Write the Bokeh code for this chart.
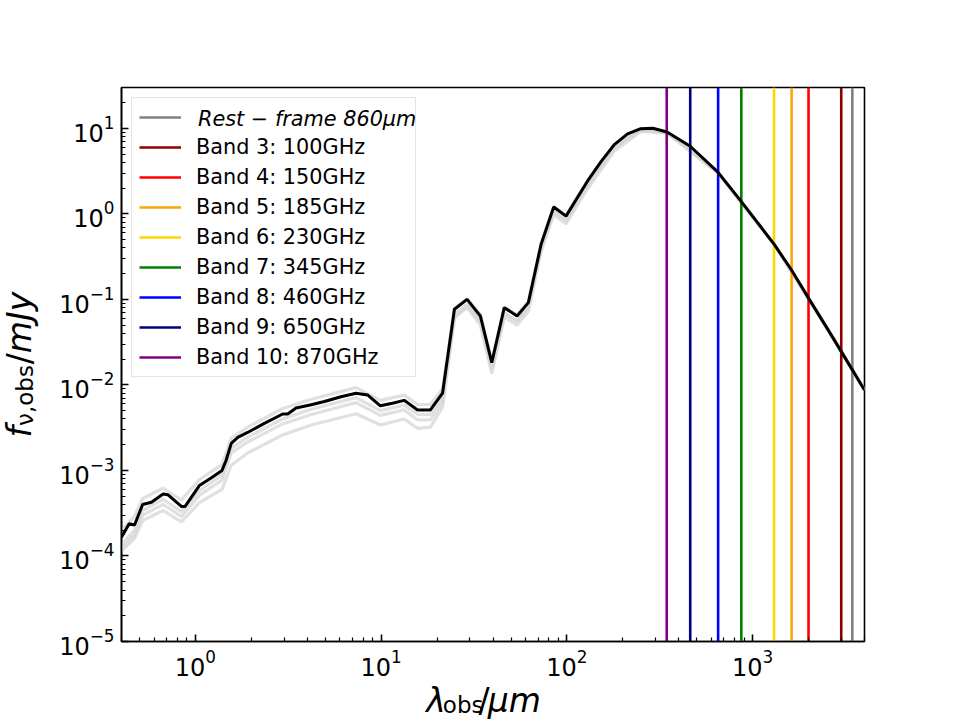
import math

from bokeh.plotting import figure
from bokeh.layouts import row, column
from bokeh.models import FixedTicker, LogTickFormatter, Legend, LegendItem, Label, Range1d
from bokeh.embed import file_html
from bokeh.resources import INLINE

# ---- best-fit SED: observed wavelength (micron) and flux density (mJy) ----
wave_um = [0.40, 0.44, 0.47, 0.52, 0.58, 0.67, 0.71, 0.84, 0.88, 1.05, 1.22, 1.39,
           1.46, 1.56, 1.69, 1.91, 2.35, 2.95, 3.14, 3.48, 4.2, 4.95, 6.08, 7.32,
           8.47, 9.9, 11.5, 13.3, 15.7, 18.4, 21.4, 24.8, 29.0, 34.2, 39.4, 46.0,
           53.9, 62.0, 72.6, 84.9, 98.9, 129, 153, 180, 212, 250, 290, 346, 461,
           648, 865, 1306, 1622, 2018, 2582, 2985, 4000]
flux_mjy = [1.66e-4, 2.38e-4, 2.3e-4, 4.0e-4, 4.25e-4, 5.3e-4, 5.2e-4, 3.8e-4, 3.8e-4,
            6.65e-4, 8.2e-4, 1.0e-3, 1.3e-3, 2.07e-3, 2.43e-3, 2.78e-3, 3.55e-3, 4.57e-3,
            4.57e-3, 5.36e-3, 5.86e-3, 6.4e-3, 7.26e-3, 8.0e-3, 7.6e-3, 5.7e-3, 6.1e-3,
            6.6e-3, 5.1e-3, 5.1e-3, 8.0e-3, 0.0766, 0.10, 0.064, 0.0182, 0.080, 0.064,
            0.0916, 0.44, 1.2, 0.94, 2.41, 4.1, 6.45, 8.6, 9.9, 10.0, 9.05, 6.17, 3.09,
            1.41, 0.44, 0.219, 0.10, 0.042, 0.025, 0.0087]

# ---- alternative templates drawn underneath ----
tmpl_wave_um = [0.40, 0.47, 0.52, 0.67, 0.84, 1.05, 1.39, 1.56, 1.91, 2.95, 4.2, 7.32,
                9.9, 13.3, 15.7, 18.4, 21.4, 24.8, 29.0, 34.2, 39.4, 46.0, 53.9, 62.0,
                72.6, 84.9, 98.9, 129, 180, 250, 346, 648, 1306, 2582, 4000]
tmpl_a = [2.0e-4, 2.9e-4, 4.7e-4, 6.2e-4, 4.5e-4, 7.8e-4, 1.17e-3, 2.4e-3, 3.2e-3, 5.3e-3,
          6.8e-3, 9.3e-3, 6.6e-3, 7.6e-3, 5.9e-3, 5.9e-3, 9.0e-3, 0.078, 0.102, 0.066,
          0.019, 0.082, 0.066, 0.094, 0.45, 1.22, 0.97, 2.45, 6.5, 9.9, 9.05, 3.09, 0.44,
          0.042, 0.0087]
tmpl_b = [1.35e-4, 2.0e-4, 3.4e-4, 4.6e-4, 3.3e-4, 5.8e-4, 8.8e-4, 1.8e-3, 2.45e-3, 4.0e-3,
          5.2e-3, 7.1e-3, 5.0e-3, 5.8e-3, 4.5e-3, 4.5e-3, 7.0e-3, 0.068, 0.088, 0.056,
          0.015, 0.068, 0.055, 0.080, 0.39, 1.05, 0.82, 2.1, 5.8, 9.5, 8.9, 3.05, 0.44,
          0.042, 0.0087]
tmpl_c = [1.25e-4, 1.75e-4, 3.0e-4, 4.0e-4, 2.9e-4, 5.1e-4, 7.7e-4, 1.6e-3, 2.15e-3, 3.5e-3,
          4.5e-3, 6.2e-3, 4.4e-3, 5.1e-3, 3.9e-3, 3.9e-3, 6.2e-3, 0.062, 0.080, 0.050,
          0.0135, 0.062, 0.050, 0.072, 0.36, 0.98, 0.76, 1.95, 5.4, 9.2, 8.8, 3.0, 0.44,
          0.042, 0.0087]
tmpl_d = [1.15e-4, 1.6e-4, 2.6e-4, 3.4e-4, 2.5e-4, 4.2e-4, 6.0e-4, 1.15e-3, 1.6e-3, 2.6e-3,
          3.4e-3, 4.6e-3, 3.4e-3, 4.0e-3, 3.1e-3, 3.2e-3, 5.5e-3, 0.060, 0.085, 0.055,
          0.016, 0.070, 0.056, 0.082, 0.40, 1.1, 0.86, 2.2, 6.0, 9.6, 8.95, 3.06, 0.44,
          0.042, 0.0087]

# ---- ALMA bands and the rest-frame reference wavelength ----
band_labels = ["Band 3: 100GHz", "Band 4: 150GHz", "Band 5: 185GHz", "Band 6: 230GHz",
               "Band 7: 345GHz", "Band 8: 460GHz", "Band 9: 650GHz", "Band 10: 870GHz"]
band_freq_ghz = [100, 150, 185, 230, 345, 460, 650, 870]
band_colors = ["#8b0000", "#ff0000", "#ffa500", "#ffd700", "#008000", "#0000ff",
               "#000080", "#800080"]
rest_label = "Rest \u2212 frame 860\u03bcm"
rest_wave_um = 860
redshift = 3.0
C_UM_GHZ = 299792.458  # speed of light in micron * GHz

X_MIN, X_MAX = 0.4, 4000
Y_MIN, Y_MAX = 1e-5, 30

# page layout: a title strip on the left, the plot, a title strip underneath
LEFT_W = 56
PLOT_W = 960 - LEFT_W
PLOT_H = 682
BOTTOM_H = 720 - PLOT_H

p = figure(width=PLOT_W, height=PLOT_H, x_axis_type="log", y_axis_type="log",
           x_range=Range1d(X_MIN, X_MAX), y_range=Range1d(Y_MIN, Y_MAX),
           output_backend="svg", toolbar_location=None,
           min_border_left=120 - LEFT_W, min_border_right=96, min_border_top=87,
           min_border_bottom=PLOT_H - 641)
p.xgrid.visible = False
p.ygrid.visible = False
p.outline_line_color = "black"
p.outline_line_width = 1.6
p.outline_line_alpha = 1.0
p.background_fill_color = "white"
p.border_fill_color = "white"

# log ticks: decades as majors, 2..9 within each decade as minors
x_major = [10.0 ** k for k in range(-1, 4)]
x_minor = [m * 10.0 ** k for k in range(-1, 4) for m in range(2, 10)]
y_major = [10.0 ** k for k in range(-5, 2)]
y_minor = [m * 10.0 ** k for k in range(-5, 2) for m in range(2, 10)]
p.xaxis.ticker = FixedTicker(ticks=x_major, minor_ticks=x_minor)
p.yaxis.ticker = FixedTicker(ticks=y_major, minor_ticks=y_minor)
p.xaxis.formatter = LogTickFormatter()
p.yaxis.formatter = LogTickFormatter()

for ax in (p.xaxis[0], p.yaxis[0]):
    ax.major_tick_in = 7
    ax.major_tick_out = 0
    ax.minor_tick_in = 4
    ax.minor_tick_out = 0
    ax.major_tick_line_width = 1.6
    ax.minor_tick_line_width = 1.2
    ax.major_tick_line_color = "black"
    ax.minor_tick_line_color = "black"
    ax.axis_line_width = 1.6
    ax.axis_line_color = "black"
    ax.major_label_text_font = "DejaVu Sans"
    ax.major_label_text_font_size = "24px"
    ax.major_label_text_color = "black"
    ax.major_label_standoff = 7

# template spread
for tmpl in (tmpl_a, tmpl_b, tmpl_c, tmpl_d):
    p.line(tmpl_wave_um, tmpl, line_color="#d6d6d6", line_width=3.2, line_alpha=0.75)

# band and rest-frame markers
rest_obs = rest_wave_um * (1 + redshift)
rest_r = p.segment(x0=[rest_obs], y0=[Y_MIN], x1=[rest_obs], y1=[Y_MAX],
                   line_color="#808080", line_width=2.6)
# the first row keeps its place with a blank label; its italic text sits in an overlay legend
items = [LegendItem(label="\u2003" * 10 + "\u2009", renderers=[rest_r])]
for lab, f, c in zip(band_labels, band_freq_ghz, band_colors):
    lam = C_UM_GHZ / f
    r = p.segment(x0=[lam], y0=[Y_MIN], x1=[lam], y1=[Y_MAX], line_color=c, line_width=2.6)
    items.append(LegendItem(label=lab, renderers=[r]))

# best-fit SED
p.line(wave_um, flux_mjy, line_color="black", line_width=3)

common = dict(location="top_left", label_text_font="DejaVu Sans",
              label_text_font_size="20.8px", label_text_color="black",
              glyph_width=42, glyph_height=20, label_height=20, label_standoff=15,
              spacing=6, padding=7)
legend = Legend(items=items, border_line_color="#cccccc", border_line_width=1.3,
                background_fill_color="white", background_fill_alpha=0.8, margin=10,
                **common)
p.add_layout(legend)

# overlay row carrying the italic rest-frame text (its own glyph is transparent)
ghost = p.line([rest_obs, rest_obs], [Y_MIN, Y_MIN], line_alpha=0.0)
legend_top = Legend(items=[LegendItem(label=rest_label, renderers=[ghost])],
                    label_text_font_style="italic", border_line_color=None,
                    background_fill_alpha=0.0, margin=20, **common)
p.add_layout(legend_top)


def strip(width, height, x0, x1, y0, y1):
    """Blank figure whose data coordinates are page pixels, used for the axis titles."""
    s = figure(width=width, height=height, x_range=Range1d(x0, x1), y_range=Range1d(y1, y0),
               output_backend="svg", toolbar_location=None,
               x_axis_location=None, y_axis_location=None,
               min_border_left=0, min_border_right=0, min_border_top=0, min_border_bottom=0)
    s.grid.visible = False
    s.outline_line_color = None
    s.background_fill_color = "white"
    s.border_fill_color = "white"
    return s


def piece(fig, text, x, y, size, style="normal", angle=0.0):
    fig.add_layout(Label(x=x, y=y, text=text, text_font="DejaVu Sans", text_font_size=size,
                         text_font_style=style, text_color="black", text_align="left",
                         text_baseline="alphabetic", angle=angle))


# x title: lambda_obs / mu m
xl = strip(PLOT_W, BOTTOM_H, LEFT_W, 960, PLOT_H, 720)
piece(xl, "\u03bb", 426.7, 700.0, "33px", "italic")
piece(xl, "obs", 447.0, 704.0, "23px")
piece(xl, "/", 490.5, 700.0, "33px")
piece(xl, "\u03bcm", 501.5, 700.0, "33px", "italic")

# y title: f_{nu,obs} / mJy, reading upward
yl = strip(LEFT_W, 720, 0, LEFT_W, 0, 720)
up = math.pi / 2
piece(yl, "f", 19.0, 437.0, "33px", "italic", up)
piece(yl, "\u03bd,obs", 24.0, 425.4, "23px", "normal", up)
piece(yl, "/", 19.0, 363.8, "33px", "normal", up)
piece(yl, "mJy", 19.0, 352.7, "33px", "italic", up)

page = row(yl, column(p, xl))
open("out.html", "w").write(file_html(page, INLINE))
